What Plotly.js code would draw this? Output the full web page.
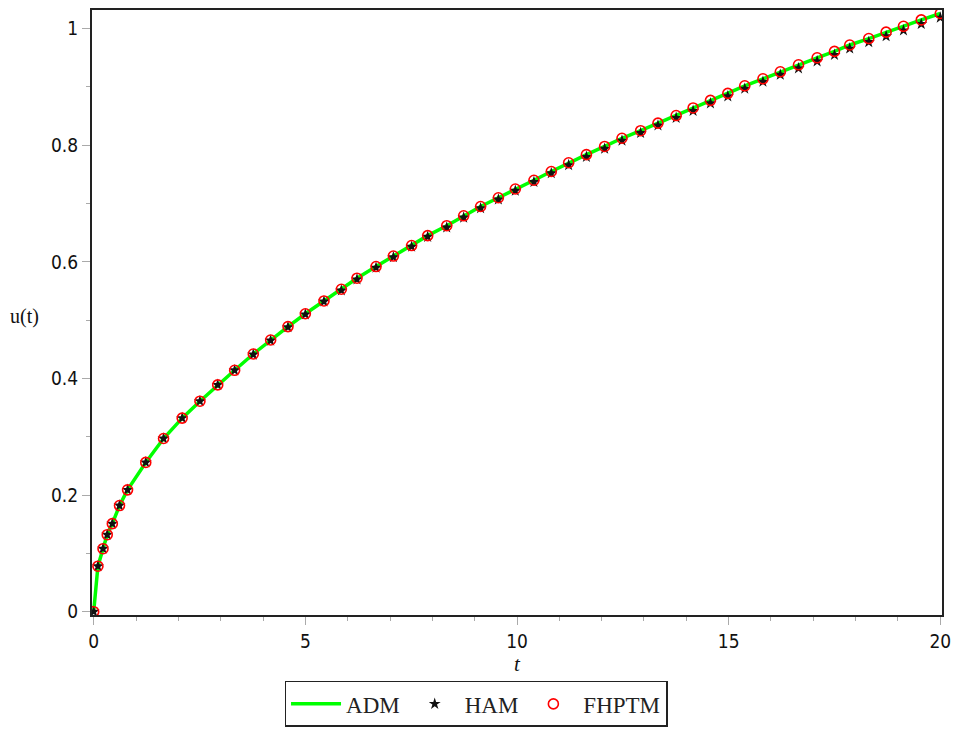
<!DOCTYPE html>
<html>
<head>
<meta charset="utf-8">
<script src="https://cdn.plot.ly/plotly-3.0.1.min.js"></script>
<style>
html,body{margin:0;padding:0;background:#fff;}
#chart{width:955px;height:731px;}
</style>
</head>
<body>
<div id="chart"></div>
<script>
const tValues = [0, 0.10, 0.22, 0.32, 0.44, 0.61, 0.80, 1.23, 1.65, 2.09, 2.51,
  2.93, 3.33, 3.77, 4.18, 4.59, 5.00, 5.44, 5.85, 6.22, 6.67,
  7.08, 7.51, 7.89, 8.34, 8.74, 9.14, 9.56, 9.96, 10.40, 10.81,
  11.22, 11.64, 12.07, 12.48, 12.92, 13.33, 13.76, 14.16, 14.57, 14.98,
  15.38, 15.81, 16.22, 16.65, 17.09, 17.50, 17.86, 18.31, 18.72, 19.13,
  19.55, 20.00];

const uADM = [0, 0.078, 0.108, 0.132, 0.151, 0.182, 0.209, 0.256, 0.297, 0.332, 0.361,
  0.389, 0.414, 0.442, 0.466, 0.489, 0.511, 0.533, 0.553, 0.572, 0.592,
  0.610, 0.628, 0.645, 0.662, 0.679, 0.695, 0.710, 0.725, 0.740, 0.755,
  0.770, 0.784, 0.798, 0.812, 0.825, 0.838, 0.851, 0.864, 0.877, 0.889,
  0.902, 0.914, 0.926, 0.938, 0.950, 0.961, 0.972, 0.983, 0.994, 1.004,
  1.015, 1.026];

const uHAM = [0, 0.078, 0.108, 0.132, 0.151, 0.182, 0.209, 0.256, 0.297, 0.332, 0.361,
  0.389, 0.414, 0.441, 0.465, 0.488, 0.510, 0.532, 0.551, 0.570, 0.590,
  0.608, 0.626, 0.643, 0.659, 0.676, 0.692, 0.707, 0.722, 0.737, 0.752,
  0.766, 0.780, 0.794, 0.808, 0.821, 0.834, 0.847, 0.859, 0.872, 0.884,
  0.897, 0.909, 0.921, 0.932, 0.944, 0.955, 0.966, 0.977, 0.987, 0.997,
  1.008, 1.019];

const uFHPTM = [0, 0.078, 0.108, 0.132, 0.151, 0.182, 0.209, 0.256, 0.297, 0.332, 0.361,
  0.389, 0.414, 0.442, 0.466, 0.489, 0.511, 0.533, 0.553, 0.572, 0.592,
  0.610, 0.628, 0.645, 0.662, 0.679, 0.695, 0.710, 0.725, 0.740, 0.755,
  0.770, 0.784, 0.798, 0.812, 0.825, 0.838, 0.851, 0.864, 0.877, 0.889,
  0.902, 0.914, 0.926, 0.938, 0.950, 0.961, 0.972, 0.983, 0.994, 1.004,
  1.015, 1.026];

const xTickVals = [0, 5, 10, 15, 20];
const xTickText = ['0', '5', '10', '15', '20'];
const yTickVals = [0, 0.2, 0.4, 0.6, 0.8, 1];
const yTickText = ['0', '0.2', '0.4', '0.6', '0.8', '1'];

const tickFont = {family: "'DejaVu Sans Condensed', 'Liberation Sans Narrow', 'Liberation Sans', sans-serif", size: 19, color: '#111'};
const serif = "'Liberation Serif', 'DejaVu Serif', serif";

const traces = [
  {x: tValues, y: uADM, name: 'ADM', type: 'scatter', mode: 'lines',
   line: {color: '#00ff00', width: 3.5}},
  {x: tValues, y: uHAM, name: 'HAM', type: 'scatter', mode: 'markers',
   marker: {symbol: 'star', size: 9, color: '#111'}},
  {x: tValues, y: uFHPTM, name: 'FHPTM', type: 'scatter', mode: 'markers',
   marker: {symbol: 'circle-open', size: 10, color: '#ff0000', line: {width: 1.6, color: '#ff0000'}}}
];

const axisCommon = {
  showgrid: false, zeroline: false, showline: true, linecolor: '#222', linewidth: 2,
  mirror: true, ticks: 'outside', ticklen: 8, tickwidth: 1, tickcolor: '#aaa',
  tickfont: tickFont
};

const layout = {
  width: 955, height: 731,
  margin: {l: 92, r: 13, t: 10, b: 116, autoexpand: false},
  paper_bgcolor: '#fff', plot_bgcolor: '#fff',
  showlegend: true,
  xaxis: Object.assign({}, axisCommon, {
    range: [-0.04, 20.04], tickvals: xTickVals, ticktext: xTickText,
    minor: {dtick: 1, tick0: 0, ticks: 'outside', ticklen: 4, tickcolor: '#aaa', showgrid: false},
    title: {text: '<i>t</i>', font: {family: serif, size: 21, color: '#111'}, standoff: 4}
  }),
  yaxis: Object.assign({}, axisCommon, {
    range: [-0.0057, 1.032], tickvals: yTickVals, ticktext: yTickText,
    minor: {dtick: 0.1, tick0: 0, ticks: 'outside', ticklen: 4, tickcolor: '#aaa', showgrid: false}
  }),
  annotations: [{
    text: 'u(t)', xref: 'paper', yref: 'paper', x: -0.079, y: 0.4926,
    xanchor: 'center', yanchor: 'middle', showarrow: false,
    font: {family: serif, size: 20, color: '#111'}
  }],
  legend: {
    orientation: 'h', x: 0.4518, xanchor: 'center', y: -0.185, yanchor: 'bottom',
    bgcolor: '#fff', bordercolor: '#222', borderwidth: 1.5,
    font: {family: serif, size: 23, color: '#222'},
    itemwidth: 50, tracegroupgap: 0
  }
};

Plotly.newPlot('chart', traces, layout, {displayModeBar: false, staticPlot: true});
</script>
</body>
</html>
